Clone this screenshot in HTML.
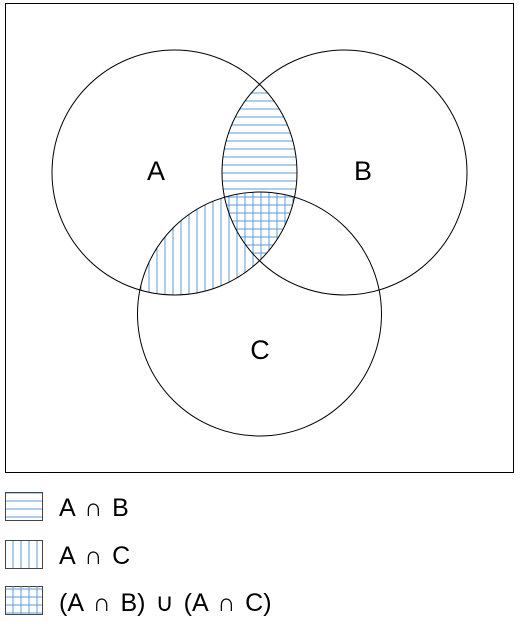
<!DOCTYPE html>
<html><head><meta charset="utf-8"><style>
html,body{margin:0;padding:0;background:#fff;width:521px;height:638px;overflow:hidden}
svg{display:block}
text{font-family:"Liberation Sans","DejaVu Sans",sans-serif;fill:#000}
</style></head><body>
<svg width="521" height="638" viewBox="0 0 521 638">
<defs>
<pattern id="hpat" width="8" height="8" patternUnits="userSpaceOnUse" y="1"><line x1="0" y1="4" x2="8" y2="4" stroke="#5b9bd5" stroke-width="1"/></pattern>
<pattern id="vpat" width="8" height="8" patternUnits="userSpaceOnUse" x="1"><line x1="4" y1="0" x2="4" y2="8" stroke="#5b9bd5" stroke-width="1"/></pattern>
<clipPath id="clipA"><circle cx="174.5" cy="172.5" r="122.5"/></clipPath>
</defs>
<rect x="5.5" y="3.5" width="508" height="469" fill="#fff" stroke="#000" stroke-width="1"/>
<g clip-path="url(#clipA)">
<circle cx="344.5" cy="172.5" r="122.5" fill="url(#hpat)"/>
<circle cx="259.5" cy="314" r="122" fill="url(#vpat)"/>
</g>
<circle cx="174.5" cy="172.5" r="122.5" fill="none" stroke="#000" stroke-width="1"/>
<circle cx="344.5" cy="172.5" r="122.5" fill="none" stroke="#000" stroke-width="1"/>
<circle cx="259.5" cy="314" r="122" fill="none" stroke="#000" stroke-width="1"/>
<text x="156" y="180" font-size="27" text-anchor="middle">A</text>
<text x="363" y="180" font-size="27" text-anchor="middle">B</text>
<text x="260" y="359" font-size="27" text-anchor="middle">C</text>
<g>
<rect x="5.5" y="492.5" width="37" height="28" fill="url(#hpat)" stroke="#444"/>
<text x="59" y="516" font-size="25" word-spacing="3">A ∩ B</text>
<rect x="5.5" y="540.5" width="37" height="28" fill="url(#vpat)" stroke="#444"/>
<text x="59" y="564" font-size="25" word-spacing="3">A ∩ C</text>
<rect x="5.5" y="586.5" width="37" height="28" fill="url(#hpat)" stroke="#444"/>
<rect x="5.5" y="586.5" width="37" height="28" fill="url(#vpat)" stroke="none"/>
<text x="59" y="611" font-size="25" word-spacing="3">(A ∩ B) ∪ (A ∩ C)</text>
</g>
</svg>
</body></html>
